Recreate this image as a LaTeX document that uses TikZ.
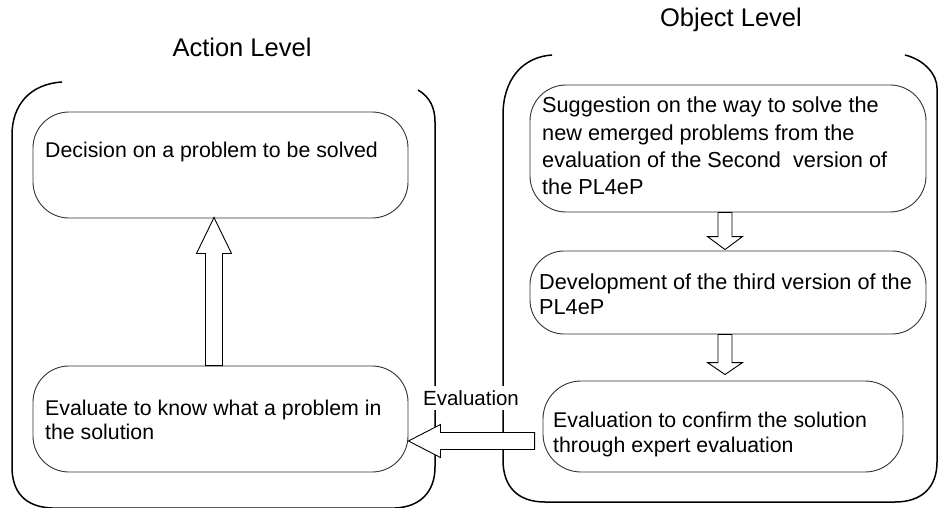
\documentclass[tikz,border=0pt]{standalone}
\usepackage{fontspec}
\setmainfont{Liberation Sans}
\usetikzlibrary{calc}

% block arrow: #1 start, #2 tip, #3 half shaft width, #4 half head width, #5 head length
\newcommand{\blockarrow}[5]{%
  \draw[blockline]
    ($(#1)!#3!90:(#2)$) -- ($($(#2)!#5!(#1)$)!#3!90:(#2)$) --
    ($($(#2)!#5!(#1)$)!#4!90:(#2)$) -- (#2) --
    ($($(#2)!#5!(#1)$)!#4!-90:(#2)$) -- ($($(#2)!#5!(#1)$)!#3!-90:(#2)$) --
    ($(#1)!#3!-90:(#2)$) -- cycle;}

\begin{document}
\begin{tikzpicture}[x=1pt,y=-1pt,
  panel/.style={line width=1.5pt,black},
  stagebox/.style={draw=black!80,line width=0.9pt,rectangle,rounded corners=#1},
  stagebox/.default=36pt,
  boxtext/.style={anchor=west,align=left,inner sep=0pt},
  blockline/.style={draw=black,fill=white,line width=0.9pt,line join=miter},
  title/.style={font=\fontsize{25.5}{30}\selectfont},
]
\useasboundingbox (0,0) rectangle (940,508);
\begin{scope}
\clip (0,0) rectangle (940,508);

% bracket panels
\draw[panel] (62,82) .. controls (30,84) and (12,105) .. (12,135)
  -- (12,467) .. controls (12,492) and (25,507) .. (52,508)
  -- (395,508) .. controls (420,507) and (435,492) .. (435,467)
  -- (435,122) .. controls (435,108) and (430,97) .. (418,90);
\draw[panel] (552,55) .. controls (522,57) and (503,80) .. (503,115)
  -- (503,460) .. controls (503,487) and (518,502) .. (545,502)
  -- (895,502) .. controls (922,502) and (937,487) .. (937,462)
  -- (937,88) .. controls (937,75) and (925,60) .. (905,55);
\end{scope}

% titles
\node[title] (acttitle) at (242,47) {Action Level};
\node[title] (objtitle) at (731,20) {Object Level};

% action level stages
\node[stagebox, minimum width=375pt, minimum height=106pt] (dec) at (220.5,165) {};
\node[stagebox, minimum width=375pt, minimum height=106pt] (evk) at (220.5,419) {};
\node[boxtext, font=\fontsize{21.3}{24.5}\selectfont] (dectext) at (45,152)
  {Decision on a problem to be solved};
\node[boxtext, font=\fontsize{21.3}{24.5}\selectfont] (evktext) at (45,420)
  {Evaluate to know what a problem in\\the solution};

% object level stages
\node[stagebox=36pt, minimum width=396pt, minimum height=127pt] (sug) at (728,148.5) {};
\node[stagebox=34pt, minimum width=396pt, minimum height=83pt] (dev) at (728,292.5) {};
\node[stagebox=38pt, minimum width=360pt, minimum height=91pt] (evc) at (723,426.5) {};
\node[boxtext, font=\fontsize{21.7}{27.3}\selectfont] (sugtext) at (542,146)
  {Suggestion on the way to solve the\\new emerged problems from the\\evaluation of the Second\ \ version of\\the PL4eP};
\node[boxtext, font=\fontsize{21.7}{25.5}\selectfont] (devtext) at (539,294)
  {Development of the third version of the\\PL4eP};
\node[boxtext, font=\fontsize{21.3}{25}\selectfont] (evctext) at (553,434)
  {Evaluation to confirm the solution\\through expert evaluation};

% connector label between the two levels
\node[fill=white, inner xsep=2pt, inner ysep=4pt, font=\fontsize{20.5}{24}\selectfont]
  (evlabel) at (471,398) {Evaluation};

% block arrows
\coordinate (upA) at ([xshift=-6.5pt]evk.north);
\coordinate (upB) at ([xshift=-6.5pt,yshift=1pt]dec.south);
\blockarrow{upA}{upB}{8.5pt}{17.5pt}{36pt}

\coordinate (d1A) at ([xshift=-3pt]sug.south);
\coordinate (d1B) at ([xshift=-3pt,yshift=1pt]dev.north);
\blockarrow{d1A}{d1B}{7pt}{17.5pt}{13pt}

\coordinate (d2A) at ([xshift=-3pt]dev.south);
\coordinate (d2B) at ([xshift=2pt,yshift=6pt]evc.north);
\blockarrow{d2A}{d2B}{7pt}{17.5pt}{12pt}

\coordinate (lA) at ([xshift=-8pt,yshift=-14.5pt]evc.west);
\coordinate (lB) at ([yshift=-22pt]evk.east);
\blockarrow{lA}{lB}{8.5pt}{16.5pt}{32pt}
\end{tikzpicture}
\end{document}
